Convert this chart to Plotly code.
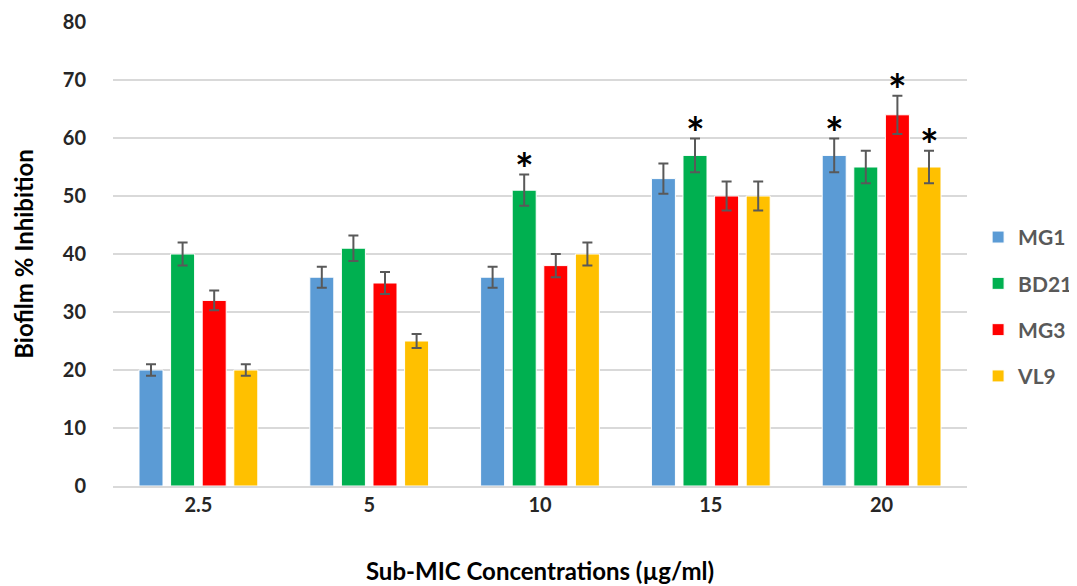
import plotly.graph_objects as go

categories = ["2.5", "5", "10", "15", "20"]
series_names = ["MG1", "BD21", "MG3", "VL9"]
colors = ["#5B9BD5", "#00B050", "#FF0000", "#FFC000"]

mg1 = [20, 36, 36, 53, 57]
bd21 = [40, 41, 51, 57, 55]
mg3 = [32, 35, 38, 50, 64]
vl9 = [20, 25, 40, 50, 55]

mg1_err = [1.0, 1.8, 1.8, 2.6, 2.9]
bd21_err = [2.0, 2.2, 2.7, 2.9, 2.8]
mg3_err = [1.7, 1.9, 2.0, 2.5, 3.3]
vl9_err = [1.0, 1.2, 2.0, 2.5, 2.8]

# significance markers: (series index, category index)
significant = [(1, 2), (1, 3), (0, 4), (2, 4), (3, 4)]

values = [mg1, bd21, mg3, vl9]
errors = [mg1_err, bd21_err, mg3_err, vl9_err]

FONT = "Lato"
fig = go.Figure()
for i, name in enumerate(series_names):
    fig.add_trace(go.Bar(
        x=categories, y=values[i], name=name,
        marker=dict(color=colors[i], line=dict(color="white", width=1)),
        error_y=dict(type="data", array=errors[i], visible=True,
                     color="#595959", thickness=2, width=5),
        legendgroup=name,
    ))

slot_px = 31.6
for s, c in significant:
    top = values[s][c] + errors[s][c]
    fig.add_annotation(
        x=c, y=top, text="<b>*</b>", showarrow=False,
        xref="x", yref="y", yanchor="bottom",
        xshift=(s - 1.5) * slot_px, yshift=-21,
        font=dict(family=FONT, size=44, color="black"),
    )

fig.update_layout(
    width=1077, height=586,
    margin=dict(l=105, r=118, t=14, b=108, autoexpand=False),
    plot_bgcolor="white", paper_bgcolor="white",
    barmode="group", bargap=0.26, bargroupgap=0.24,
    font=dict(family=FONT, color="#404040"),
    legend=dict(
        x=1.013, y=0.386, xanchor="left", yanchor="middle",
        font=dict(family=FONT, size=21, color="#595959", weight="bold"),
        tracegroupgap=16, bgcolor="rgba(0,0,0,0)", itemwidth=30,
    ),
    showlegend=True,
)
fig.update_xaxes(
    type="category", range=[-0.5, 4.5], showgrid=False, showline=True,
    linecolor="#D9D9D9", linewidth=2, automargin=False,
    ticks="", tickfont=dict(family=FONT, size=20, color="#262626", weight="bold"),
    title=dict(text="Sub-MIC Concentrations (µg/ml)", standoff=48,
               font=dict(family=FONT, size=24, color="black", weight="bold")),
)
fig.update_yaxes(
    range=[0, 80], dtick=10, showgrid=True, gridcolor="#D9D9D9", gridwidth=2,
    zeroline=False, showline=False, ticks="outside", ticklen=22, tickcolor="white",
    automargin=False,
    tickfont=dict(family=FONT, size=20, color="#262626", weight="bold"),
    title=dict(text="Biofilm % Inhibition", standoff=22,
               font=dict(family=FONT, size=24, color="black", weight="bold")),
)

fig.write_html("out.html")
